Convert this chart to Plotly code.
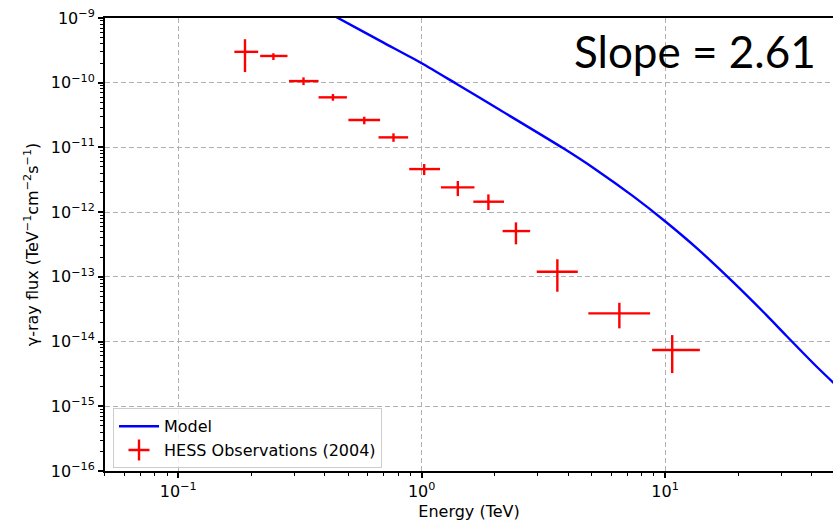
import plotly.graph_objects as go

# ---------------- data ----------------
hess_energy = [0.188, 0.246, 0.327, 0.432, 0.581, 0.766, 1.024, 1.408, 1.88, 2.44, 3.61, 6.49, 10.7]
hess_e_lo = [0.170, 0.217, 0.285, 0.377, 0.500, 0.665, 0.889, 1.20, 1.63, 2.15, 2.97, 4.84, 8.85]
hess_e_hi = [0.213, 0.281, 0.377, 0.493, 0.675, 0.880, 1.19, 1.648, 2.18, 2.79, 4.38, 8.68, 13.9]
hess_flux = [3.0e-10, 2.59e-10, 1.06e-10, 5.94e-11, 2.65e-11, 1.43e-11, 4.63e-12, 2.41e-12,
             1.45e-12, 5.1e-13, 1.2e-13, 2.73e-14, 7.4e-15]
hess_flux_lo = [1.46e-10, 2.24e-10, 9.2e-11, 5.27e-11, 2.28e-11, 1.22e-11, 3.74e-12, 1.77e-12,
                1.08e-12, 3.18e-13, 5.89e-14, 1.6e-14, 3.26e-15]
hess_flux_hi = [4.7e-10, 2.85e-10, 1.21e-10, 6.68e-11, 2.98e-11, 1.65e-11, 5.54e-12, 3.03e-12,
                1.88e-12, 6.95e-13, 1.87e-13, 3.98e-14, 1.26e-14]

model_energy = [0.40, 0.461, 0.70, 1.0, 1.393, 2.10, 3.82, 5.15, 7.41, 10.0, 13.5, 19.0,
                26.1, 31.5, 41.9, 50]
model_flux = [1.29e-9, 9.66e-10, 4.13e-10, 2.0e-10, 9.55e-11, 3.78e-11, 9.68e-12, 4.65e-12,
              1.75e-12, 7.24e-13, 2.78e-13, 8.36e-14, 2.56e-14, 1.23e-14, 4.12e-15, 2.18e-15]

x_tickvals = [0.1, 1, 10]
x_ticktext = ["10<sup>\u22121</sup>", "10<sup>0</sup>", "10<sup>1</sup>"]
y_exponents = [-16, -15, -14, -13, -12, -11, -10, -9]
y_tickvals = [10.0 ** e for e in y_exponents]
y_ticktext = ["10<sup>%s</sup>" % str(e).replace("-", "\u2212") for e in y_exponents]

slope_text = "Slope = 2.61"

# ---------------- figure ----------------
FONT = "DejaVu Sans"
RED = "#ff0000"
BLUE = "#0000ff"

err_x_plus = [h - c for h, c in zip(hess_e_hi, hess_energy)]
err_x_minus = [c - l for c, l in zip(hess_energy, hess_e_lo)]
err_y_plus = [h - c for h, c in zip(hess_flux_hi, hess_flux)]
err_y_minus = [c - l for c, l in zip(hess_flux, hess_flux_lo)]

fig = go.Figure()

fig.add_trace(go.Scatter(
    x=model_energy, y=model_flux, mode="lines", name="Model",
    line=dict(color=BLUE, width=2.4, shape="spline", smoothing=0.7),
))

fig.add_trace(go.Scatter(
    x=hess_energy, y=hess_flux, mode="markers", showlegend=False,
    marker=dict(size=1, color="rgba(0,0,0,0)"),
    error_x=dict(type="data", symmetric=False, array=err_x_plus, arrayminus=err_x_minus,
                 color=RED, thickness=2.4, width=0),
    error_y=dict(type="data", symmetric=False, array=err_y_plus, arrayminus=err_y_minus,
                 color=RED, thickness=2.4, width=0),
))

# legend-only entry for the observations (red cross)
fig.add_trace(go.Scatter(
    x=[None], y=[None], mode="markers", name="HESS Observations (2004)",
    marker=dict(symbol="cross-thin", size=15, color=RED, line=dict(color=RED, width=2.4)),
))

fig.add_annotation(
    text=slope_text, xref="paper", yref="paper", x=0.811, y=0.927,
    xanchor="center", yanchor="middle", showarrow=False,
    font=dict(family="Lato", size=44, color="black"),
)

minor_x = [m * 10.0 ** e for e in range(-2, 2) for m in range(2, 10)]
minor_y = [m * 10.0 ** e for e in range(-17, -9) for m in range(2, 10)]

fig.update_layout(
    width=833, height=524,
    margin=dict(l=105, r=0, t=18, b=53),
    paper_bgcolor="white", plot_bgcolor="white",
    font=dict(family=FONT, size=16, color="black"),
    showlegend=True,
    legend=dict(
        x=0.011, y=0.006, xanchor="left", yanchor="bottom",
        bgcolor="rgba(255,255,255,0.8)", bordercolor="#cccccc", borderwidth=1,
        font=dict(family=FONT, size=16, color="black"), itemwidth=40,
        tracegroupgap=0,
    ),
)

fig.update_xaxes(
    type="log", range=[-1.301, 1.690],
    tickmode="array", tickvals=x_tickvals, ticktext=x_ticktext,
    ticks="outside", ticklen=5, tickwidth=1.5, tickcolor="black",
    showline=True, linecolor="black", linewidth=2, mirror=True,
    showgrid=True, gridcolor="#b0b0b0", gridwidth=1, griddash="5px,3px",
    zeroline=False,
    minor=dict(tickmode="array", tickvals=minor_x, ticks="outside", ticklen=3,
               tickwidth=1, tickcolor="black", showgrid=False),
    title=dict(text="Energy (TeV)", standoff=6, font=dict(family=FONT, size=16)),
    tickfont=dict(family=FONT, size=16),
)

fig.update_yaxes(
    type="log", range=[-16, -9],
    tickmode="array", tickvals=y_tickvals, ticktext=y_ticktext,
    ticks="outside", ticklen=5, tickwidth=1.5, tickcolor="black",
    showline=True, linecolor="black", linewidth=2, mirror=False,
    showgrid=True, gridcolor="#b0b0b0", gridwidth=1, griddash="5px,3px",
    zeroline=False,
    minor=dict(tickmode="array", tickvals=minor_y, ticks="outside", ticklen=3,
               tickwidth=1, tickcolor="black", showgrid=False),
    title=dict(text="\u03b3-ray flux (TeV<sup>\u22121</sup>cm<sup>\u22122</sup>s<sup>\u22121</sup>)",
               standoff=8, font=dict(family=FONT, size=16)),
    tickfont=dict(family=FONT, size=16),
)

fig.write_html("out.html")
